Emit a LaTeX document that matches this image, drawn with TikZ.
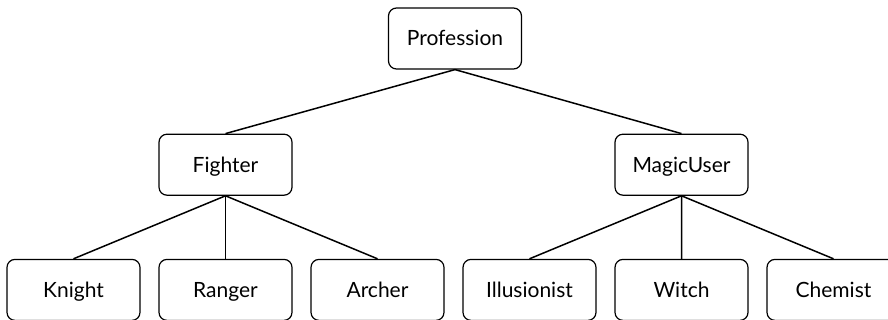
\documentclass[tikz,border=0pt]{standalone}
\usepackage{fontspec}
\setmainfont{Lato}
\usetikzlibrary{positioning}

\tikzset{
  class/.style={draw, line width=1.2pt, rounded corners=8pt, inner sep=0pt,
    minimum width=133pt, minimum height=61pt, text height=15pt, text depth=0pt,
    font=\fontsize{21}{25}\selectfont},
  link/.style={line width=1.5pt}
}

\begin{document}
\begin{tikzpicture}[x=1pt,y=1pt,node distance=17.8pt]
  \useasboundingbox (0,0) rectangle (888,-320);
  \clip (0,0) rectangle (888,-320);

  \node[class] (profession) at (455,-38.5) {Profession};
  \node[class] (fighter) [below=64pt of profession, xshift=-229.5pt] {Fighter};
  \node[class] (magicuser) [below=64pt of profession, xshift=226.5pt] {MagicUser};

  \node[class] (ranger) [below=63pt of fighter] {Ranger};
  \node[class] (knight) [left=of ranger] {Knight};
  \node[class] (archer) [right=of ranger] {Archer};
  \node[class] (illusionist) [right=of archer] {Illusionist};
  \node[class] (witch) [right=of illusionist] {Witch};
  \node[class] (chemist) [right=of witch] {Chemist};

  \path[link]
    (profession.south) edge (fighter.north)
    (profession.south) edge (magicuser.north)
    (fighter.south) edge (knight.north)
    (fighter.south) edge (ranger.north)
    (fighter.south) edge (archer.north)
    (magicuser.south) edge (illusionist.north)
    (magicuser.south) edge (witch.north)
    (magicuser.south) edge (chemist.north);

\end{tikzpicture}
\end{document}
